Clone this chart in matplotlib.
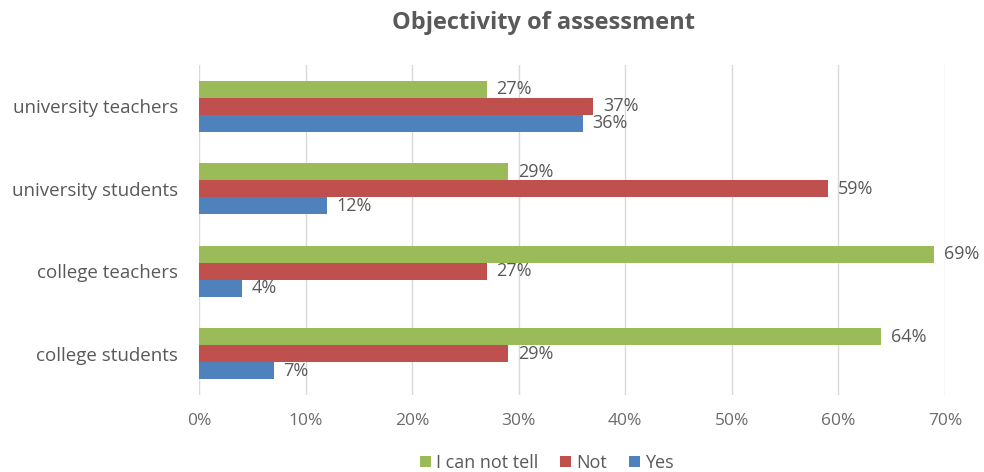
import matplotlib.pyplot as plt
import numpy as np

categories = ["college students", "college teachers", "university students", "university teachers"]
yes_vals = [7, 4, 12, 36]
not_vals = [29, 27, 59, 37]
tell_vals = [64, 69, 29, 27]
series_names = ["I can not tell", "Not", "Yes"]
x_ticks = [0, 10, 20, 30, 40, 50, 60, 70]

plt.rcParams['font.family'] = ['Open Sans', 'DejaVu Sans']
txt = '#595959'

fig = plt.figure(figsize=(9.84, 4.72), dpi=100)
ax = fig.add_axes([199/984, 1-395/472, (945-199)/984, (395-65)/472])

y = np.arange(len(categories))
h = 0.205
colors = {'I can not tell': '#9BBB59', 'Not': '#C0504D', 'Yes': '#4F81BD'}
data = {'I can not tell': tell_vals, 'Not': not_vals, 'Yes': yes_vals}
offsets = {'I can not tell': h, 'Not': 0, 'Yes': -h}

for name in series_names:
    bars = ax.barh(y + offsets[name], data[name], height=h, color=colors[name], label=name, zorder=3)
    for b, v in zip(bars, data[name]):
        ax.text(v + 0.9, b.get_y() + b.get_height()/2, f"{v}%", va='center', ha='left',
                fontsize=13, color=txt)

ax.set_xlim(0, 70)
ax.set_ylim(-0.5, len(categories) - 0.5)
ax.set_xticks(x_ticks)
ax.set_xticklabels([f"{t}%" for t in x_ticks], fontsize=12.5, color='#6b6b6b')
ax.set_yticks(y)
ax.set_yticklabels(categories, fontsize=13.5, color=txt)
ax.tick_params(axis='both', length=0)
ax.tick_params(axis='x', pad=13)
ax.tick_params(axis='y', pad=15)
ax.grid(axis='x', color='#D9D9D9', linewidth=1, zorder=0)
for s in ax.spines.values():
    s.set_visible(False)

fig.text(543/984, 1-23/472, "Objectivity of assessment", ha='center', va='center',
         fontsize=17, fontweight='bold', color=txt)

handles, labels = ax.get_legend_handles_labels()
fig.legend(handles, labels, loc='center', bbox_to_anchor=(547/984, 1-463/472), ncol=3,
           frameon=False, fontsize=13, labelcolor=txt, handlelength=0.6, handleheight=0.6,
           handletextpad=0.3, columnspacing=1.2)

fig.savefig('out.png', dpi=100)
